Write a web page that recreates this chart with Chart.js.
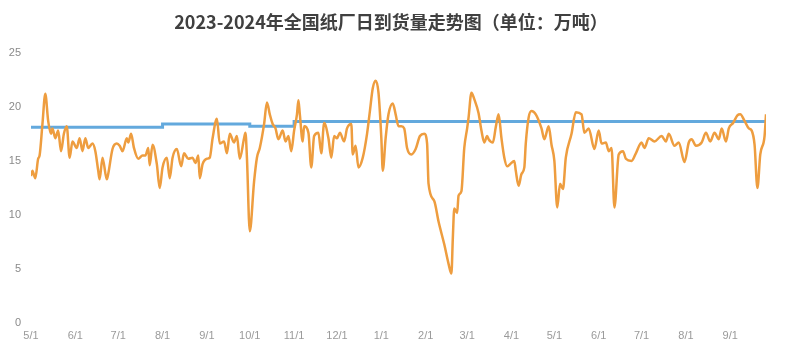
<!DOCTYPE html>
<html>
<head>
<meta charset="utf-8">
<script src="https://cdn.jsdelivr.net/npm/chart.js@4/dist/chart.umd.min.js"></script>
<style>
  html, body { margin: 0; padding: 0; background: #fff; }
  #wrap { width: 785px; height: 340px; }
</style>
</head>
<body>
<div id="wrap"><canvas id="arrivalChart" width="785" height="340"></canvas></div>
<script>
// day index counted from 2023-05-01
let monthStarts = [0, 31, 61, 92, 123, 153, 184, 214, 245, 276, 305, 336, 366, 397, 427, 458, 489];
let monthLabels = ['5/1', '6/1', '7/1', '8/1', '9/1', '10/1', '11/1', '12/1', '1/1', '2/1', '3/1', '4/1', '5/1', '6/1', '7/1', '8/1', '9/1'];

let arrivalDays = [
  0, 1, 3, 5, 6, 8, 10, 12, 14, 15, 17, 19, 21, 23, 25, 27, 29, 32, 34, 36,
  38, 40, 43, 45, 47, 48, 50, 53, 54, 57, 60, 62, 64, 67, 68, 70, 72, 75, 78, 80,
  82, 83, 85, 88, 90, 92, 95, 97, 99, 102, 105, 107, 110, 113, 115, 117, 118, 120, 123, 125,
  127, 130, 132, 135, 137, 139, 142, 144, 146, 149, 150, 151, 153, 156, 158, 160, 163, 165, 167, 169,
  171, 173, 176, 178, 180, 182, 184, 186, 187, 188, 190, 191, 194, 196, 198, 201, 203, 205, 208, 210,
  212, 214, 216, 219, 221, 224, 225, 227, 229, 232, 235, 237, 239, 241, 243, 245, 246, 248, 250, 253,
  255, 257, 259, 261, 263, 266, 269, 272, 275, 277, 278, 282, 285, 289, 292, 294, 295, 296, 298, 299,
  301, 303, 305, 306, 308, 310, 313, 315, 317, 319, 320, 323, 325, 327, 329, 331, 333, 335, 338, 339,
  341, 343, 345, 346, 348, 350, 353, 357, 359, 362, 364, 366, 368, 370, 372, 374, 378, 381, 385, 387,
  390, 394, 397, 399, 402, 404, 406, 408, 411, 414, 416, 420, 423, 427, 429, 432, 436, 441, 444, 446,
  450, 453, 457, 460, 462, 465, 469, 472, 475, 478, 481, 483, 486, 488, 491, 494, 496, 499, 502, 504,
  506, 508, 510, 513, 514
];
let arrivalValues = [
  13.6, 14.1, 13.4, 15.2, 15.5, 18.4, 21.2, 18.7, 17.5, 18.0, 17.1, 17.8, 15.9, 17.5, 18.2, 15.3, 16.8, 16.2, 17.1, 15.9,
  17.1, 16.2, 16.6, 15.9, 14.1, 13.3, 15.3, 13.3, 13.8, 16.1, 16.6, 16.4, 15.9, 17.1, 16.7, 17.5, 16.2, 15.2, 15.5, 15.5,
  16.2, 14.6, 16.5, 14.7, 12.5, 14.4, 15.3, 13.4, 15.3, 16.1, 14.5, 15.7, 15.2, 15.3, 14.8, 15.5, 13.4, 14.7, 15.2, 15.3,
  17.1, 18.9, 16.6, 16.8, 15.7, 17.5, 16.7, 17.3, 15.2, 17.1, 17.6, 15.3, 8.5, 13.1, 15.3, 16.2, 18.4, 20.4, 19.3, 18.4,
  18.0, 17.0, 17.8, 16.8, 17.3, 15.9, 17.8, 19.3, 20.6, 19.3, 16.8, 18.2, 17.6, 14.4, 17.3, 17.6, 15.7, 18.5, 17.1, 15.3,
  17.3, 17.1, 17.6, 16.8, 18.0, 18.4, 15.6, 16.4, 14.4, 15.3, 17.5, 19.6, 21.7, 22.4, 21.3, 17.1, 14.1, 17.1, 19.3, 20.3,
  19.3, 18.2, 18.2, 18.0, 16.2, 15.6, 16.1, 17.3, 17.5, 16.6, 12.9, 11.3, 9.4, 7.3, 5.5, 4.6, 7.9, 10.6, 10.2, 11.8,
  12.2, 16.2, 18.0, 19.0, 21.3, 20.7, 19.4, 17.8, 16.7, 17.3, 17.0, 16.7, 18.1, 19.3, 17.1, 15.3, 14.5, 14.7, 15.0, 14.1,
  12.7, 13.8, 14.4, 16.6, 19.0, 19.6, 19.3, 18.0, 17.0, 18.2, 16.5, 15.0, 10.7, 12.9, 12.4, 15.3, 17.5, 19.5, 19.3, 17.6,
  18.0, 16.1, 17.8, 16.6, 16.7, 15.9, 16.2, 10.7, 15.6, 15.9, 15.2, 15.0, 15.7, 16.7, 16.2, 17.1, 16.8, 17.3, 16.8, 17.5,
  16.4, 16.7, 14.9, 16.7, 17.0, 16.4, 16.7, 17.6, 16.8, 17.6, 17.0, 18.0, 16.8, 18.0, 18.5, 19.2, 19.3, 18.7, 18.0, 17.8,
  16.5, 12.5, 15.6, 17.3, 19.3
];

// flat reference level, changes at month starts
let avgDays = [0, 92, 153, 184, 514];
let avgValues = [18.1, 18.4, 18.2, 18.65, 18.65];

let arrivalPoints = arrivalDays.map((d, i) => ({ x: d, y: arrivalValues[i] }));
let avgPoints = avgDays.map((d, i) => ({ x: d, y: avgValues[i] }));

new Chart(document.getElementById('arrivalChart'), {
  type: 'line',
  data: {
    datasets: [
      {
        label: '均值',
        data: avgPoints,
        borderColor: '#63A9DD',
        borderWidth: 3,
        pointRadius: 0,
        stepped: true,
        order: 2
      },
      {
        label: '日到货量',
        data: arrivalPoints,
        borderColor: '#EE9D3F',
        borderWidth: 2.5,
        pointRadius: 0,
        tension: 0.2,
        cubicInterpolationMode: 'monotone',
        order: 1
      }
    ]
  },
  options: {
    responsive: false,
    animation: false,
    layout: { padding: { left: 0, right: 3, top: 0, bottom: 0 } },
    plugins: {
      legend: { display: false },
      tooltip: { enabled: false },
      title: {
        display: true,
        text: '2023-2024年全国纸厂日到货量走势图（单位：万吨）',
        color: '#404040',
        font: { family: '"Noto Sans CJK SC", "Noto Sans", sans-serif', size: 18, weight: 'bold' },
        padding: { top: 11, bottom: 20 }
      }
    },
    scales: {
      x: {
        type: 'linear',
        min: 0,
        max: 514,
        grid: { display: false, drawTicks: false },
        border: { display: false },
        afterBuildTicks: scale => {
          scale.ticks = monthStarts.map(v => ({ value: v }));
        },
        afterFit: scale => { scale.height = 16; },
        ticks: {
          autoSkip: false,
          maxRotation: 0,
          padding: 6,
          color: '#9a9a9a',
          font: { family: '"Liberation Sans", sans-serif', size: 11 },
          callback: (value, index) => monthLabels[index]
        }
      },
      y: {
        min: 0,
        max: 25,
        grid: { display: false, drawTicks: false },
        border: { display: false },
        afterFit: scale => { scale.width = 31; },
        ticks: {
          stepSize: 5,
          padding: 10,
          color: '#8a8a8a',
          font: { family: '"Liberation Sans", sans-serif', size: 11 }
        }
      },
      // empty right-hand strip, keeps the plot edge where the reference has it
      yRight: {
        position: 'right',
        min: 0,
        max: 25,
        grid: { display: false, drawTicks: false },
        border: { display: false },
        ticks: { display: false },
        afterFit: scale => { scale.width = 16; }
      }
    }
  }
});
</script>
</body>
</html>
